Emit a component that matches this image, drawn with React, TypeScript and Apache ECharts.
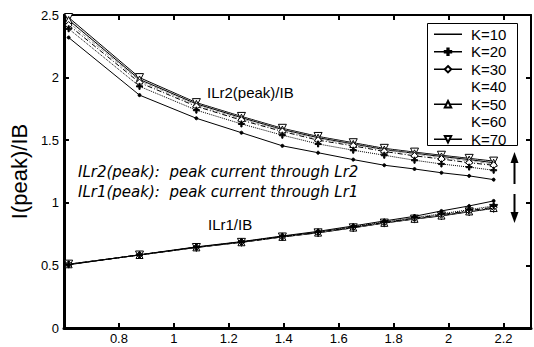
import React, { useEffect, useRef } from "react";
import * as echarts from "echarts";

// ---- data ----
const xValues = [0.617, 0.875, 1.082, 1.246, 1.395, 1.525, 1.653, 1.766, 1.876, 1.974, 2.075, 2.164];

const kLabels = ["K=10", "K=20", "K=30", "K=40", "K=50", "K=60", "K=70"];

// ILr2(peak)/IB family (decreasing)
const upperK10 = [2.32, 1.86, 1.675, 1.56, 1.455, 1.4, 1.345, 1.3, 1.27, 1.24, 1.215, 1.185];
const upperK20 = [2.39, 1.93, 1.74, 1.63, 1.54, 1.47, 1.42, 1.38, 1.34, 1.31, 1.285, 1.26];
const upperK30 = [2.42, 1.96, 1.77, 1.66, 1.57, 1.5, 1.455, 1.41, 1.375, 1.35, 1.32, 1.3];
const upperK40 = [2.44, 1.975, 1.78, 1.67, 1.58, 1.51, 1.465, 1.42, 1.39, 1.36, 1.335, 1.31];
const upperK50 = [2.46, 1.985, 1.79, 1.68, 1.585, 1.52, 1.47, 1.425, 1.395, 1.37, 1.345, 1.32];
const upperK60 = [2.47, 1.99, 1.795, 1.685, 1.59, 1.525, 1.475, 1.43, 1.4, 1.375, 1.35, 1.325];
const upperK70 = [2.48, 2.0, 1.8, 1.69, 1.595, 1.53, 1.48, 1.435, 1.405, 1.38, 1.355, 1.333];

// ILr1/IB family (increasing)
const lowerK10 = [0.505, 0.585, 0.648, 0.69, 0.735, 0.772, 0.815, 0.855, 0.892, 0.935, 0.975, 1.015];
const lowerK20 = [0.507, 0.584, 0.646, 0.688, 0.732, 0.767, 0.808, 0.847, 0.882, 0.912, 0.945, 0.975];
const lowerK30 = [0.508, 0.584, 0.645, 0.687, 0.73, 0.764, 0.805, 0.843, 0.877, 0.905, 0.937, 0.965];
const lowerK40 = [0.509, 0.583, 0.644, 0.686, 0.729, 0.763, 0.803, 0.841, 0.874, 0.901, 0.934, 0.96];
const lowerK50 = [0.509, 0.583, 0.644, 0.685, 0.728, 0.762, 0.802, 0.84, 0.872, 0.898, 0.931, 0.958];
const lowerK60 = [0.51, 0.583, 0.643, 0.685, 0.728, 0.761, 0.801, 0.839, 0.871, 0.897, 0.929, 0.956];
const lowerK70 = [0.51, 0.583, 0.643, 0.684, 0.727, 0.76, 0.8, 0.838, 0.87, 0.895, 0.928, 0.955];

const upperSets = [upperK10, upperK20, upperK30, upperK40, upperK50, upperK60, upperK70];
const lowerSets = [lowerK10, lowerK20, lowerK30, lowerK40, lowerK50, lowerK60, lowerK70];

const FONT = "Liberation Sans, Arial, Helvetica, sans-serif";
const WIDE = "DejaVu Sans, Liberation Sans, sans-serif";

const PLUS = "path://M4,0H6V4H10V6H6V10H4V6H0V4H4Z";
const TRI_DOWN = "path://M0,0L10,0L5,9Z";

const styles = [
  { symbol: "circle", size: 3, fill: "#000", color: "#000", type: "solid", width: 1, legendSym: false },
  { symbol: PLUS, size: 6, fill: "#000", color: "#000", type: "dotted", width: 1, legendSym: true },
  { symbol: "diamond", size: 7, fill: "#fff", color: "#000", type: [5, 2, 1, 2], width: 1, legendSym: true },
  { symbol: "none", size: 0, fill: "#999", color: "#999", type: "dashed", width: 1, legendSym: false },
  { symbol: "triangle", size: 7, fill: "#fff", color: "#000", type: "solid", width: 1, legendSym: true },
  { symbol: "none", size: 0, fill: "#aaa", color: "#aaa", type: "dotted", width: 1, legendSym: false },
  { symbol: TRI_DOWN, size: 8, fill: "#fff", color: "#000", type: "solid", width: 1, legendSym: true },
];

export default function App() {
  const ref = useRef<HTMLDivElement>(null);

  useEffect(() => {
    if (!ref.current) return;
    const chart = echarts.init(ref.current, undefined, { renderer: "svg" });

    const series: any[] = [];
    kLabels.forEach((name, i) => {
      const s = styles[i];
      [upperSets[i], lowerSets[i]].forEach((vals) => {
        series.push({
          name,
          type: "line",
          data: xValues.map((x, j) => [x, vals[j]]),
          symbol: s.symbol,
          symbolSize: s.size,
          showSymbol: s.symbol !== "none",
          lineStyle: { color: s.color, width: s.width, type: s.type },
          itemStyle: { color: s.fill, borderColor: "#000", borderWidth: 1 },
          z: 10 - i,
        });
      });
    });

    const legendData = kLabels.map((name, i) => {
      const s = styles[i];
      if (s.symbol === "none") {
        return { name, lineStyle: { opacity: 0 }, itemStyle: { opacity: 0 } };
      }
      if (!s.legendSym) {
        return { name, itemStyle: { opacity: 0 }, lineStyle: { color: "#000", width: 1.5, type: "solid" } };
      }
      return { name, lineStyle: { color: "#000", width: 1.5, type: "solid" } };
    });

    const fmt = (v: number) => String(parseFloat(v.toFixed(1)));

    chart.setOption({
      animation: false,
      backgroundColor: "#fff",
      grid: { left: 57, right: -1, top: 15, bottom: 19 },
      legend: {
        data: legendData,
        orient: "vertical",
        left: 427,
        top: 23,
        padding: [3, 0, 3, 6],
        itemGap: 1,
        itemWidth: 28,
        itemHeight: 8,
        borderWidth: 0,
        textStyle: {
          fontFamily: FONT,
          fontSize: 15,
          lineHeight: 16.5,
          color: "#000",
          padding: [0, 0, 0, 4],
        },
        z: 20,
      },
      xAxis: [
        {
          type: "value",
          min: 0.6,
          max: 2.3,
          interval: 0.2,
          position: "bottom",
          axisLine: { show: true, lineStyle: { color: "#000", width: 3 } },
          axisTick: { show: true, inside: true, length: 5, lineStyle: { color: "#000", width: 2 } },
          axisLabel: {
            color: "#000",
            fontFamily: FONT,
            fontSize: 13,
            margin: 4,
            formatter: (v: number) => (v < 0.7 || v > 2.25 ? "" : fmt(v)),
          },
          splitLine: { show: false },
        },
        {
          type: "value",
          min: 0.6,
          max: 2.3,
          interval: 0.2,
          position: "top",
          axisLine: { show: true, onZero: false, lineStyle: { color: "#000", width: 2 } },
          axisTick: { show: true, inside: true, length: 5, lineStyle: { color: "#000", width: 2 } },
          axisLabel: { show: false },
          splitLine: { show: false },
        },
      ],
      yAxis: [
        {
          type: "value",
          min: 0,
          max: 2.5,
          interval: 0.5,
          position: "left",
          name: "I(peak)/IB",
          nameLocation: "middle",
          nameGap: 30,
          nameRotate: 90,
          nameTextStyle: { fontFamily: FONT, fontSize: 22, color: "#000" },
          axisLine: { show: true, lineStyle: { color: "#000", width: 3 } },
          axisTick: { show: true, inside: true, length: 5, lineStyle: { color: "#000", width: 2 } },
          axisLabel: { color: "#000", fontFamily: FONT, fontSize: 13, margin: 5, formatter: fmt },
          splitLine: { show: false },
        },
        {
          type: "value",
          min: 0,
          max: 2.5,
          interval: 0.5,
          position: "right",
          axisLine: { show: true, onZero: false, lineStyle: { color: "#000", width: 2 } },
          axisTick: { show: true, inside: true, length: 5, lineStyle: { color: "#000", width: 2 } },
          axisLabel: { show: false },
          splitLine: { show: false },
        },
      ],
      series,
      graphic: [
        {
          type: "rect",
          shape: { x: 427.5, y: 23.5, width: 90, height: 122 },
          style: { fill: "#fff", stroke: "#000", lineWidth: 1 },
          z: 15,
        },
        {
          type: "text",
          left: 207,
          top: 85,
          style: { text: "ILr2(peak)/IB", font: `15px ${FONT}`, fill: "#000" },
          z: 100,
        },
        {
          type: "text",
          left: 208,
          top: 217,
          style: { text: "ILr1/IB", font: `15px ${FONT}`, fill: "#000" },
          z: 100,
        },
        {
          type: "text",
          left: 78,
          top: 164,
          style: { text: "ILr2(peak):  peak current through Lr2", font: `italic 15px ${WIDE}`, fill: "#000" },
          z: 100,
        },
        {
          type: "text",
          left: 78,
          top: 184,
          style: { text: "ILr1(peak):  peak current through Lr1", font: `italic 15px ${WIDE}`, fill: "#000" },
          z: 100,
        },
        // up arrow
        {
          type: "line",
          shape: { x1: 514.5, y1: 184, x2: 514.5, y2: 160 },
          style: { stroke: "#000", lineWidth: 2 },
          z: 100,
        },
        {
          type: "polygon",
          shape: { points: [[514.5, 152], [510.5, 163], [518.5, 163]] },
          style: { fill: "#000" },
          z: 100,
        },
        // down arrow
        {
          type: "line",
          shape: { x1: 514.5, y1: 194, x2: 514.5, y2: 215 },
          style: { stroke: "#000", lineWidth: 2 },
          z: 100,
        },
        {
          type: "polygon",
          shape: { points: [[514.5, 223], [510.5, 212], [518.5, 212]] },
          style: { fill: "#000" },
          z: 100,
        },
      ],
    });

    return () => chart.dispose();
  }, []);

  return (
    <div
      ref={ref}
      style={{ position: "fixed", left: 0, top: 0, width: 534, height: 347 }}
    />
  );
}
